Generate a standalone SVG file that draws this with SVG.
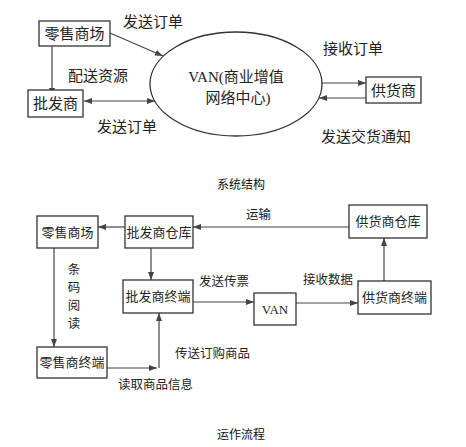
<svg xmlns="http://www.w3.org/2000/svg" width="466" height="447" viewBox="0 0 466 447">
<style>
.box{fill:#fff;stroke:#333;stroke-width:1.3}
.ln{fill:none;stroke:#444;stroke-width:1.2}
.t{font-family:"Liberation Serif","Noto Sans CJK SC",serif;fill:#222}
.a{font-size:15px}
.b{font-size:13px}
.c{font-size:12.5px}
.cap{font-family:"Noto Sans CJK SC",sans-serif;font-size:12px;fill:#111}
</style>
<defs>
<marker id="ar" markerUnits="userSpaceOnUse" markerWidth="9" markerHeight="7" refX="8" refY="3" orient="auto-start-reverse"><path d="M0,0 L8,3 L0,6 z" fill="#444"/></marker>
</defs>
<rect width="466" height="447" fill="#fff"/>

<g id="connectors">
<line class="ln" x1="52" y1="46" x2="52" y2="96" marker-end="url(#ar)"/>
<line class="ln" x1="110" y1="33" x2="163" y2="56" marker-end="url(#ar)"/>
<line class="ln" x1="84" y1="101" x2="155" y2="101" marker-start="url(#ar)" marker-end="url(#ar)"/>
<line class="ln" x1="322" y1="83" x2="366" y2="83" marker-end="url(#ar)"/>
<line class="ln" x1="366" y1="98" x2="319" y2="98" marker-end="url(#ar)"/>

<line class="ln" x1="125" y1="227" x2="98" y2="227" marker-end="url(#ar)"/>
<line class="ln" x1="349" y1="227" x2="193" y2="227" marker-end="url(#ar)"/>
<line class="ln" x1="54" y1="248" x2="54" y2="347" marker-end="url(#ar)"/>
<line class="ln" x1="151" y1="248" x2="151" y2="280" marker-end="url(#ar)"/>
<line class="ln" x1="107" y1="368" x2="157" y2="368" marker-end="url(#ar)"/>
<line class="ln" x1="159" y1="368" x2="159" y2="313" marker-end="url(#ar)"/>
<line class="ln" x1="193" y1="302" x2="254" y2="302" marker-end="url(#ar)"/>
<line class="ln" x1="296" y1="303" x2="358" y2="303" marker-end="url(#ar)"/>
<line class="ln" x1="384" y1="281" x2="384" y2="238" marker-end="url(#ar)"/>
</g>

<g id="lingshou-top"><rect class="box" x="39" y="21" width="71" height="25"/><text class="t a" x="74.5" y="39" text-anchor="middle">零售商场</text></g>
<g id="pifa-top"><rect class="box" x="28" y="90" width="55" height="27"/><text class="t a" x="55.5" y="109" text-anchor="middle">批发商</text></g>
<g id="van-top"><ellipse cx="236" cy="84" rx="86" ry="52" fill="#fff" stroke="#333" stroke-width="1.3"/><text class="t a" x="236" y="82" text-anchor="middle">VAN(商业增值</text><text class="t a" x="238" y="103" text-anchor="middle">网络中心)</text></g>
<g id="gonghuo-top"><rect class="box" x="366" y="77" width="55" height="26"/><text class="t a" x="393.5" y="95.5" text-anchor="middle">供货商</text></g>

<g id="labels-top">
<text class="t a" x="123" y="27">发送订单</text>
<text class="t a" x="68" y="81">配送资源</text>
<text class="t a" x="97" y="132">发送订单</text>
<text class="t a" x="323" y="54">接收订单</text>
<text class="t a" x="321" y="142">发送交货通知</text>
<text class="cap" x="217" y="189">系统结构</text>
</g>

<g id="lingshou-bot"><rect class="box" x="37" y="216" width="61" height="32"/><text class="t b" x="67.5" y="236.5" text-anchor="middle">零售商场</text></g>
<g id="pifa-cangku"><rect class="box" x="125" y="216" width="68" height="32"/><text class="t b" x="159" y="236.5" text-anchor="middle">批发商仓库</text></g>
<g id="gonghuo-cangku"><rect class="box" x="349" y="205" width="78" height="33"/><text class="t b" x="388" y="226" text-anchor="middle">供货商仓库</text></g>
<g id="pifa-zhongduan"><rect class="box" x="123" y="280" width="70" height="33"/><text class="t b" x="158" y="301" text-anchor="middle">批发商终端</text></g>
<g id="van-bot"><rect class="box" x="254" y="293" width="42" height="32"/><text class="t b" x="275" y="313.5" text-anchor="middle">VAN</text></g>
<g id="gonghuo-zhongduan"><rect class="box" x="358" y="281" width="73" height="33"/><text class="t b" x="394.5" y="302" text-anchor="middle">供货商终端</text></g>
<g id="lingshou-zhongduan"><rect class="box" x="37" y="347" width="70" height="31"/><text class="t b" x="72" y="367" text-anchor="middle">零售商终端</text></g>

<g id="labels-bot">
<text class="t c" x="246" y="219">运输</text>
<text class="t c" x="74" y="274" text-anchor="middle">条</text>
<text class="t c" x="74" y="292" text-anchor="middle">码</text>
<text class="t c" x="74" y="310" text-anchor="middle">阅</text>
<text class="t c" x="74" y="328" text-anchor="middle">读</text>
<text class="t c" x="199" y="286">发送传票</text>
<text class="t c" x="303" y="284">接收数据</text>
<text class="t c" x="175" y="358">传送订购商品</text>
<text class="t c" x="118" y="389">读取商品信息</text>
<text class="cap" x="217" y="439">运作流程</text>
</g>
</svg>
